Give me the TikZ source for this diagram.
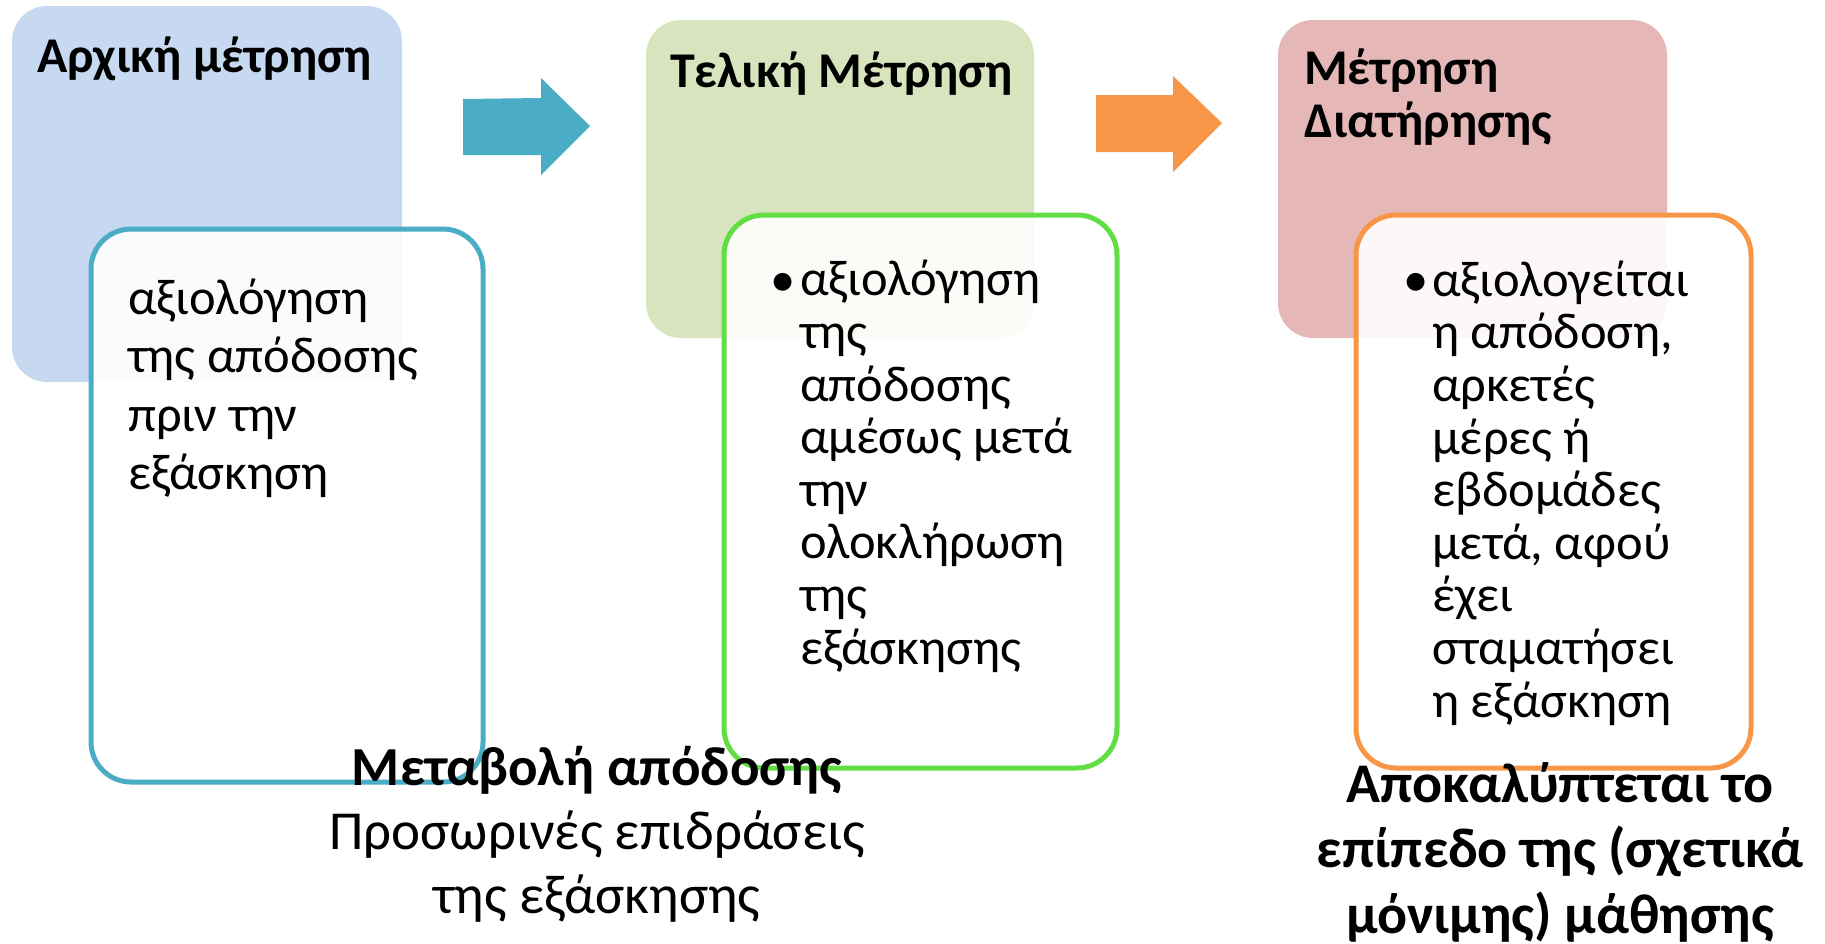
\documentclass[tikz,border=0pt]{standalone}
\usepackage{fontspec}
\setmainfont{Carlito}
\definecolor{bluebox}{RGB}{198,217,240}
\definecolor{greenbox}{RGB}{216,228,190}
\definecolor{pinkbox}{RGB}{229,184,183}
\definecolor{tealc}{RGB}{75,172,198}
\definecolor{orangec}{RGB}{247,150,70}
\definecolor{greenc}{RGB}{98,222,68}
\tikzset{
  catbox/.style={rounded corners=35pt},
  outbox/.style={rounded corners=40pt, line width=5pt, fill=white, fill opacity=0.9},
  titletext/.style={anchor=base west, inner sep=0pt, font=\fontsize{50}{53}\selectfont\bfseries, align=left},
  bodytext/.style={anchor=base west, inner sep=0pt, font=\fontsize{50.5}{52.6}\selectfont, align=left},
  bullettext/.style={anchor=base west, inner sep=0pt, font=\fontsize{50.5}{52.6}\selectfont},
  bottomtext/.style={anchor=base, inner sep=0pt, align=center, font=\fontsize{55}{64}\selectfont}
}
\begin{document}
\begin{tikzpicture}[x=1pt,y=-1pt]
\useasboundingbox (0,0) rectangle (1825,943);
% coloured boxes
\fill[bluebox, catbox] (12,6) rectangle (402,382);
\fill[greenbox, catbox] (646,20) rectangle (1034,338);
\fill[pinkbox, catbox] (1278,20) rectangle (1667,338);
% block arrows
\fill[tealc] (463,99) -- (541,98) -- (541,78) -- (590,126) -- (541,175) -- (541,155) -- (463,155) -- cycle;
\fill[orangec] (1096,95) -- (1173,95) -- (1173,76) -- (1222,123) -- (1173,172) -- (1173,152) -- (1096,152) -- cycle;
% outline boxes
\draw[outbox, draw=tealc] (91,229) rectangle (483,782);
\draw[outbox, draw=greenc] (724,215) rectangle (1117,768);
\draw[outbox, draw=orangec] (1356,215) rectangle (1751,768);
% titles (anchor = baseline of last line)
\node[titletext] (t1) at (37,72) {Αρχική μέτρηση};
\node[titletext] (t2) at (670,87) {Τελική Μέτρηση};
\node[titletext] (t3) at (1304,137) {Μέτρηση\\Διατήρησης};
% box texts
\node[bodytext, font=\fontsize{50.5}{58.5}\selectfont] (b1) at (128,489.5) {αξιολόγηση\\της απόδοσης\\πριν την\\εξάσκηση};
\node[bullettext] (bu2) at (770,296) {•};
\node[bodytext] (b2) at (800,664) {αξιολόγηση\\της\\απόδοσης\\αμέσως μετά\\την\\ολοκλήρωση\\της\\εξάσκησης};
\node[bullettext] (bu3) at (1403,296) {•};
\node[bodytext] (b3) at (1432,717) {αξιολογείται\\η απόδοση,\\αρκετές\\μέρες ή\\εβδομάδες\\μετά, αφού\\έχει\\σταματήσει\\η εξάσκηση};
% bottom texts
\node[bottomtext] (m1) at (597,913) {\textbf{Μεταβολή απόδοσης}\\Προσωρινές επιδράσεις\\της εξάσκησης};
\node[bottomtext, font=\fontsize{56}{65.5}\selectfont\bfseries] (m2) at (1560,933) {Αποκαλύπτεται το\\επίπεδο της (σχετικά\\μόνιμης) μάθησης};
\end{tikzpicture}
\end{document}
